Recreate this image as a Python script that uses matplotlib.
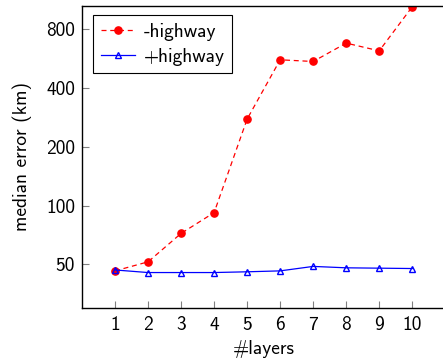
import matplotlib
matplotlib.use("Agg")
import matplotlib.pyplot as plt
from matplotlib.ticker import FixedLocator, NullLocator

layers = [1, 2, 3, 4, 5, 6, 7, 8, 9, 10]
no_highway = [46.3, 51.5, 72, 92, 277, 557, 546, 678, 619, 1041]
with_highway = [46.8, 45.4, 45.4, 45.4, 45.8, 46.3, 48.8, 48.0, 47.8, 47.6]
yticks = [50, 100, 200, 400, 800]

plt.rcParams['font.family'] = ['cmss10', 'DejaVu Sans']
plt.rcParams['axes.unicode_minus'] = False
plt.rcParams['font.size'] = 14

fig = plt.figure(figsize=(4.43, 3.60), dpi=100)
ax = fig.add_axes([82/443, 1 - 307.7/360, (445.3 - 82)/443, (307.7 - 6)/360])

ax.plot(layers, no_highway, color='red', linestyle=(0, (4, 3)), linewidth=0.9,
        marker='o', markersize=5.2, label='-highway')
ax.plot(layers, with_highway, color='blue', linestyle='-', linewidth=0.9,
        marker='^', markersize=4.5, markerfacecolor='none', markeredgewidth=1.0,
        label='+highway')

ax.set_yscale('log', base=2)
ax.set_ylim(30, 1050)
ax.set_xlim(0, 11)
ax.yaxis.set_major_locator(FixedLocator(yticks))
ax.yaxis.set_minor_locator(NullLocator())
ax.set_yticklabels([str(v) for v in yticks])
ax.set_xticks(layers)
ax.set_xticklabels([str(v) for v in layers])

ax.tick_params(direction='in', length=5, width=0.8, color='#808080', labelsize=14)
ax.tick_params(axis='y', pad=5)
ax.tick_params(axis='x', pad=6)
for s in ax.spines.values():
    s.set_linewidth(1.0)
ax.spines['right'].set_visible(False)

ax.set_xlabel('#layers', fontsize=14, labelpad=4)
ax.set_ylabel('median error (km)', fontsize=14, labelpad=10)

leg = ax.legend(loc='upper left', bbox_to_anchor=(0.03, 0.97), fancybox=False,
                edgecolor='black', framealpha=1, fontsize=14,
                handlelength=1.75, handletextpad=0.45, borderpad=0.4,
                labelspacing=0.35, borderaxespad=0.0)
leg.get_frame().set_linewidth(0.8)

fig.savefig('out.png', dpi=100)
